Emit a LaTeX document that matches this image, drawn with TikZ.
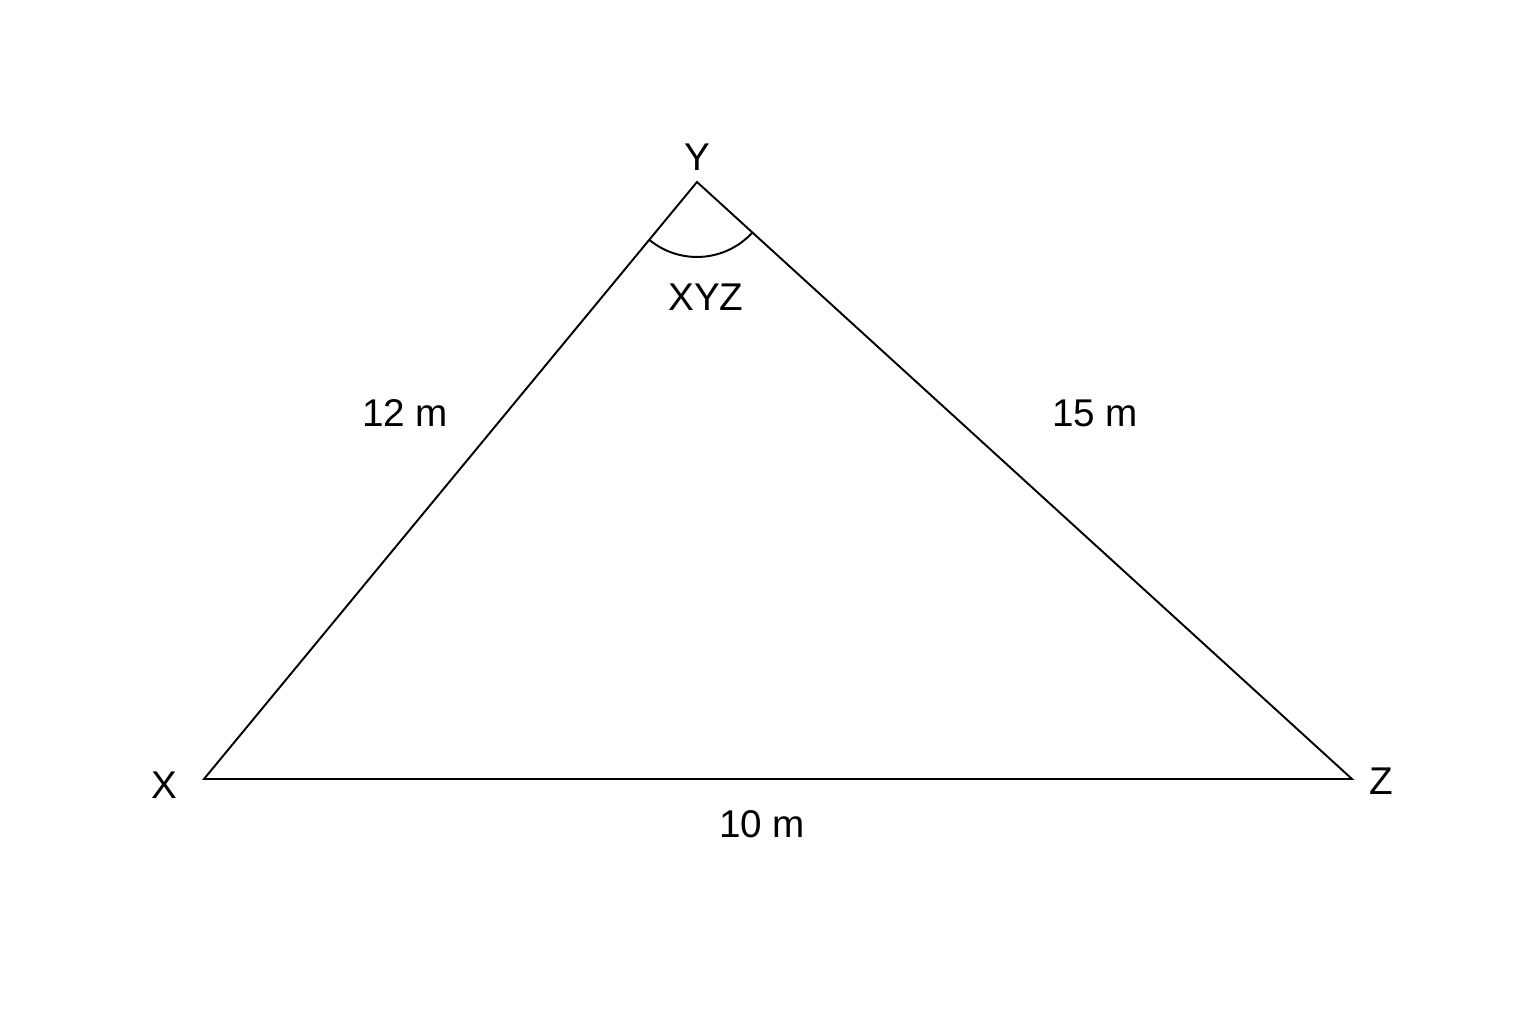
\documentclass[tikz,border=0pt]{standalone}
\usepackage{fontspec}
\setmainfont{Liberation Sans}
\usetikzlibrary{angles}
\begin{document}
\begin{tikzpicture}[x=0.02cm,y=0.02cm,
  edge/.style={draw=black,line width=1.1pt,line join=miter},
  lbl/.style={font=\fontsize{22}{26}\selectfont,inner sep=0pt,text=black}]
\useasboundingbox[fill=white] (0,0) rectangle (1536,1024);
\coordinate (X) at (204,245);
\coordinate (Y) at (697,842);
\coordinate (Z) at (1352,245);
\draw[edge] (X) -- (Y) -- (Z) -- cycle;
\pic[draw=black,line width=1.1pt,angle radius=1.5cm] {angle=X--Y--Z};
\node[lbl] (lY) at (697,867) {Y};
\node[lbl] (lX) at (164,239) {X};
\node[lbl] (lZ) at (1381,243) {Z};
\node[lbl] (lXYZ) at (706,727) {XYZ};
\node[lbl] (l12) at (405,611) {12 m};
\node[lbl] (l15) at (1095,611) {15 m};
\node[lbl] (l10) at (762,200) {10 m};
\end{tikzpicture}
\end{document}
